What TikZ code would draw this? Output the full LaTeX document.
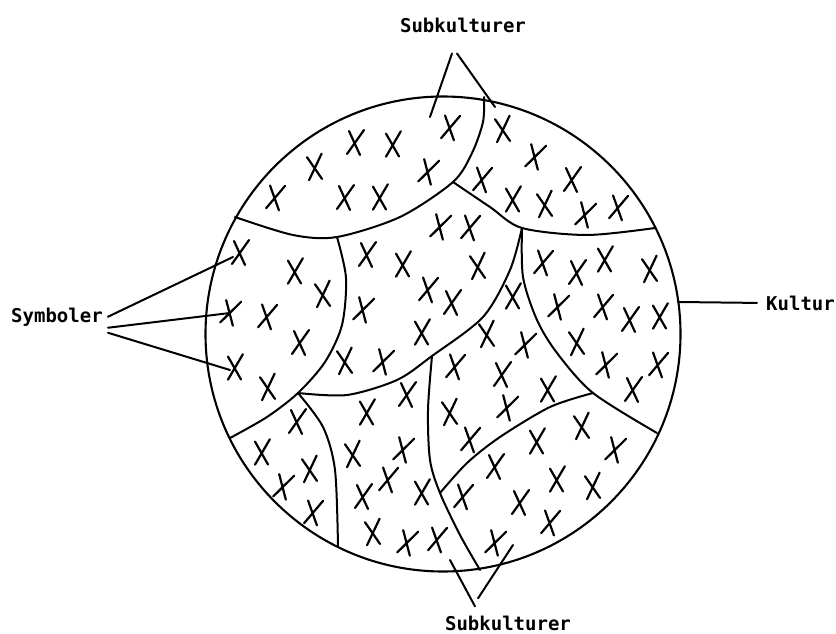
\documentclass[tikz,border=0pt]{standalone}
\usepackage{fontspec}
\setmonofont{DejaVu Sans Mono}
\usetikzlibrary{calc}

\begin{document}
\begin{tikzpicture}[
    x=1pt, y=-1pt, line cap=round, line join=round,
    rim/.style      ={line width=2.1pt},
    border/.style   ={line width=2pt},
    leader/.style   ={line width=2pt},
    label_txt/.style={font=\ttfamily\bfseries\fontsize{19}{21}\selectfont, inner sep=0pt},
    xmark/.pic      ={\draw[line width=2.2pt] (-6,-12) -- (5,12) (-8,11) -- (9,-13);}
]
\useasboundingbox (0,0) rectangle (836,634);

% Culture circle
\coordinate (C) at (443,334);
\draw[rim] (C) circle[radius=237.5];

% Junctions on the rim
\coordinate (j_tl)  at (235,217);
\coordinate (j_top) at (484,97);
\coordinate (j_tr)  at (655,228);
\coordinate (j_r)   at (657,433);
\coordinate (j_b)   at (480,570);
\coordinate (j_bl)  at (338,547);
\coordinate (j_l)   at (230,438);

% Inner junctions
\coordinate (k1) at (337,237);
\coordinate (k2) at (453,182);
\coordinate (k3) at (522,228);
\coordinate (k4) at (298,393);
\coordinate (k5) at (432,356);
\coordinate (k6) at (593,393);
\coordinate (k7) at (440,493);

% Subculture borders
\draw[border] plot[smooth] coordinates {(j_tl) (293,235) (k1) (400,217) (k2) (472,153) (483,122) (j_top)};
\draw[border] plot[smooth] coordinates {(k2) (490,207) (k3) (587,235) (j_tr)};
\draw[border] plot[smooth] coordinates {(k1) (346,278) (342,325) (325,362) (k4) (267,417) (j_l)};
\draw[border] plot[smooth] coordinates {(k4) (347,395) (397,380) (k5) (483,317) (510,270) (k3)};
\draw[border] plot[smooth] coordinates {(k3) (523,277) (537,320) (557,353) (k6) (j_r)};
\draw[border] plot[smooth] coordinates {(k5) (428,410) (430,460) (k7) (460,535) (j_b)};
\draw[border] plot[smooth] coordinates {(k7) (467,463) (500,437) (550,407) (k6)};
\draw[border] plot[smooth] coordinates {(k4) (323,427) (335,470) (j_bl)};

% Symbols
\foreach \px/\py [count=\i] in {
    450/128, 355/143, 393/145, 315/168, 428/172, 275/198, 345/198, 380/198,
    503/130, 535/157, 482/180, 572/180, 513/200, 545/205, 585/215, 618/208,
    240/253, 295/272, 323/295, 230/313, 267/317, 300/343, 235/368, 268/388,
    440/227, 470/228, 367/255, 403/265, 478/267, 363/310, 428/290, 452/303, 422/333, 345/362, 383/362,
    543/263, 577/273, 605/260, 650/270, 558/307, 603/307, 630/320, 660/317, 577/343, 606/365, 658/365, 633/390,
    513/297, 487/335, 525/345, 455/367, 502/375, 548/390, 450/413, 507/408, 470/440,
    297/422, 262/453, 310/470, 283/487, 313/513,
    407/395, 367/413, 353/455, 403/450, 388/480, 363/497, 422/493, 373/533, 407/543, 437/540,
    495/467, 537/442, 582/427, 615/450, 463/497, 520/503, 557/480, 593/487, 495/543, 550/523}
    \pic[rotate={mod(\i,5)*5-10}] at (\px,\py) {xmark};

% Labels
\node[label_txt, anchor=base] (sub_top) at (463,33) {Subkulturer};
\node[label_txt, anchor=base] (sub_btm) at (508,630) {Subkulturer};
\node[label_txt, anchor=base] (symb) at (57,322) {Symboler};
\node[label_txt, anchor=base west] (kult) at (766,310) {Kultur};

% Leader ends
\coordinate (tp_a) at (430,117);
\coordinate (tp_b) at (495,107);
\coordinate (bt_a) at (450,560);
\coordinate (bt_b) at (513,545);
\coordinate (sy_a) at (233,257);
\coordinate (sy_b) at (230,313);
\coordinate (sy_c) at (230,370);
\coordinate (rim_k) at (678,302);

% Leaders
\draw[leader] ($(sub_top.south)+(-11,20)$) -- (tp_a);
\draw[leader] ($(sub_top.south)+(-6,20)$) -- (tp_b);
\draw[leader] ($(sub_btm.north)+(-33,-9)$) -- (bt_a);
\draw[leader] ($(sub_btm.north)+(-30,-17)$) -- (bt_b);
\draw[leader] ($(symb.east)+(5,0)$) -- (sy_a);
\draw[leader] ($(symb.east)+(5,11)$) -- (sy_b);
\draw[leader] ($(symb.east)+(5,16)$) -- (sy_c);
\draw[leader] ($(kult.west)+(-9,0)$) -- (rim_k);

\end{tikzpicture}
\end{document}
